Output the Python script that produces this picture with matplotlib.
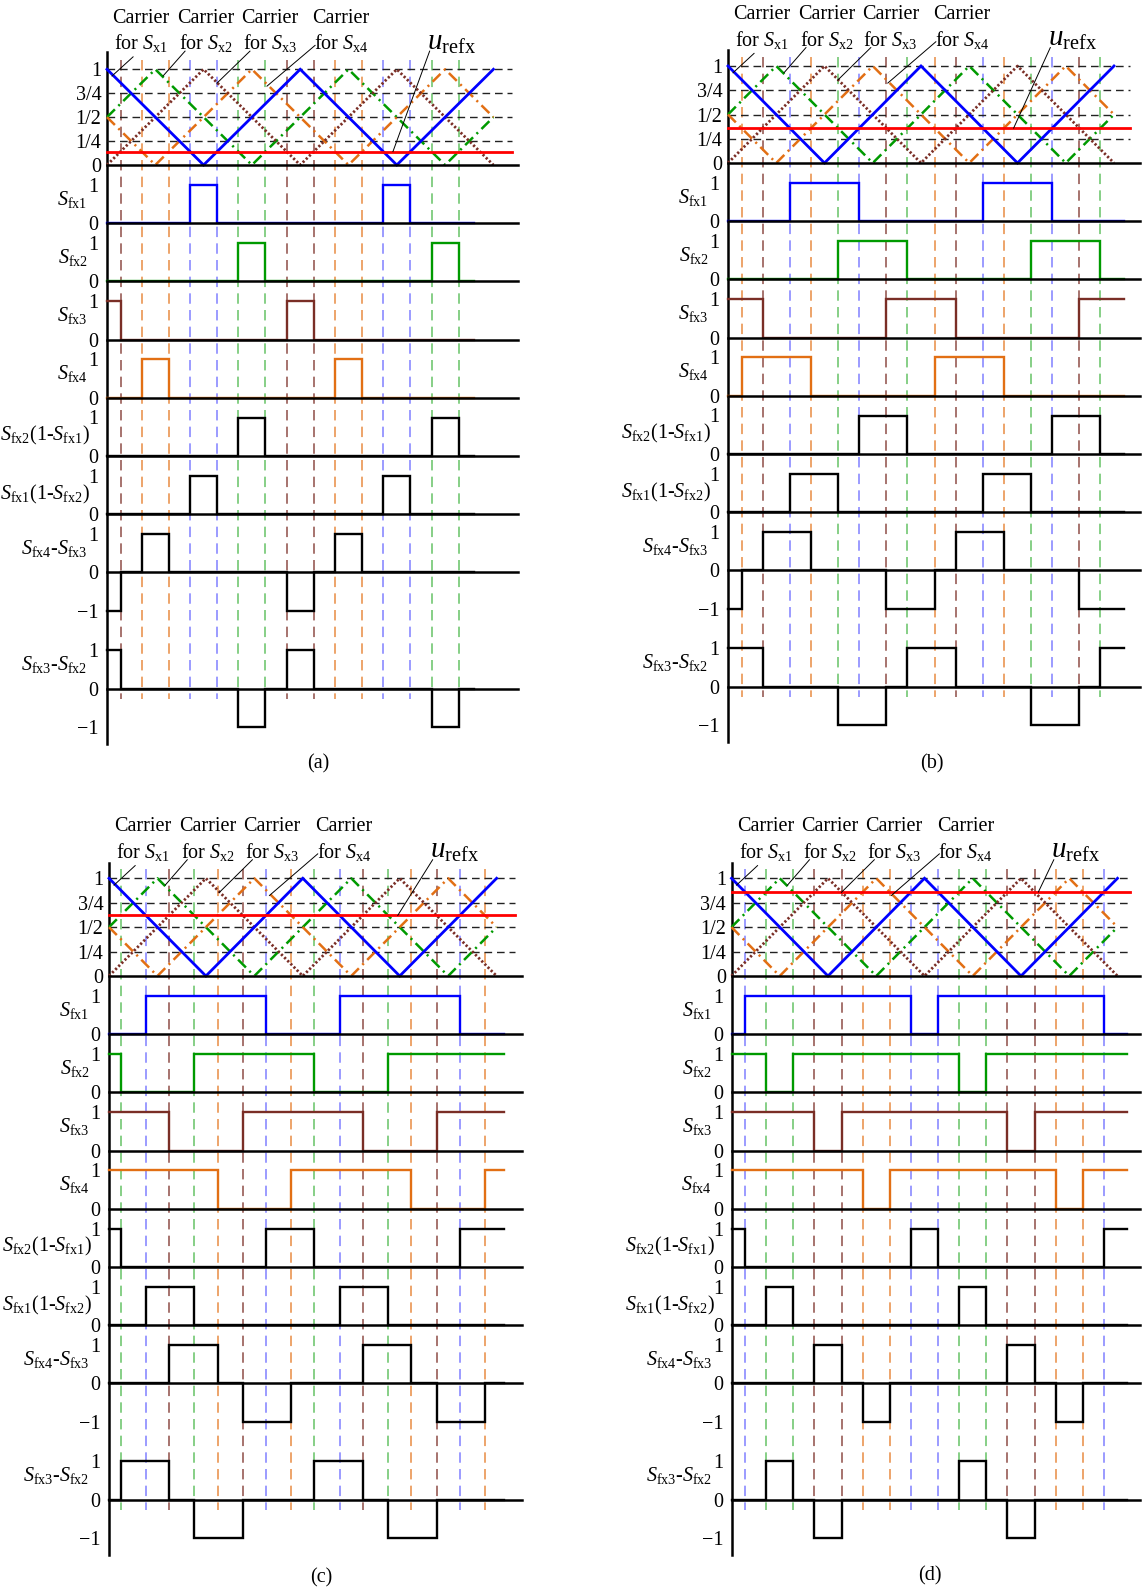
import numpy as np
import matplotlib.pyplot as plt

plt.rcParams['font.family'] = ['Liberation Serif', 'DejaVu Serif']
plt.rcParams['mathtext.fontset'] = 'custom'
plt.rcParams['mathtext.rm'] = 'Liberation Serif'
plt.rcParams['mathtext.it'] = 'Liberation Serif:italic'
plt.rcParams['lines.scale_dashes'] = False

W, H = 1142, 1592

# triangular carriers, time in carrier periods
carrier1_t = [0, 0.5, 1, 1.5, 2]
carrier1_v = [1, 0, 1, 0, 1]
carrier2_t = [0, 0.25, 0.75, 1.25, 1.75, 2]
carrier2_v = [0.5, 1, 0, 1, 0, 0.5]
carrier3_t = [0, 0.5, 1, 1.5, 2]
carrier3_v = [0, 1, 0, 1, 0]
carrier4_t = [0, 0.25, 0.75, 1.25, 1.75, 2]
carrier4_v = [0.5, 0, 1, 0, 1, 0.5]

panel_names = ['(a)', '(b)', '(c)', '(d)']
uref_values = [0.14, 0.36, 0.62, 0.86]
t_end = [1.9, 2.05, 2.04, 2.05]

# on-intervals of the four switching functions, one list per panel
sfx1_on = [
    [(0.43, 0.57), (1.43, 1.57)],
    [(0.32, 0.68), (1.32, 1.68)],
    [(0.19, 0.81), (1.19, 1.81)],
    [(0.07, 0.93), (1.07, 1.93)],
]
sfx2_on = [
    [(0.68, 0.82), (1.68, 1.82)],
    [(0.57, 0.93), (1.57, 1.93)],
    [(-0.56, 0.06), (0.44, 1.06), (1.44, 2.06)],
    [(-0.68, 0.18), (0.32, 1.18), (1.32, 2.18)],
]
sfx3_on = [
    [(-0.07, 0.07), (0.93, 1.07), (1.93, 2.07)],
    [(-0.18, 0.18), (0.82, 1.18), (1.82, 2.18)],
    [(-0.31, 0.31), (0.69, 1.31), (1.69, 2.31)],
    [(-0.43, 0.43), (0.57, 1.43), (1.57, 2.43)],
]
sfx4_on = [
    [(0.18, 0.32), (1.18, 1.32)],
    [(0.07, 0.43), (1.07, 1.43), (2.07, 2.43)],
    [(-0.06, 0.56), (0.94, 1.56), (1.94, 2.56)],
    [(-0.18, 0.68), (0.82, 1.68), (1.82, 2.68)],
]

carrier_ticks = [1, 0.75, 0.5, 0.25, 0]
carrier_ticklabels = ['1', '3/4', '1/2', '1/4', '0']

# leader lines (text end -> curve end), carrier units
leader_start = [(0.135, 1.13), (0.404, 1.19), (0.74, 1.19), (1.077, 1.25)]
leader_end = [(0.026, 0.93), (0.29, 0.93), (0.569, 0.855), (0.828, 0.824)]
carrier_label_t = [0.176, 0.51, 0.842, 1.212]
uref_leader_t = [1.48, 1.48, 1.49, 1.59]

# panel geometry in pixels
panel_x0 = [107, 728, 109, 731.5]
panel_T = [193.2, 193, 193.8, 193]
panel_top1 = [69.3, 66, 878.3, 878.3]
panel_B = [165, 163, 976, 976]
panel_xright = [518, 1140, 522, 1140]
panel_dash_end = [512, 1130, 515, 1130]
caption_xy = [(318, 764), (932, 764), (321, 1578), (930, 1576)]
PITCH = 58.2
UNIT = 38.5

BLUE = '#0000ff'
GREEN = '#009a00'
BROWN = '#7a2e26'
ORANGE = '#e26f14'
FS = 14.5


def px_rect(x, y, w, h):
    return [x / W, 1 - (y + h) / H, w / W, h / H]


def level(intervals, t):
    return 1 if any(a <= t < b for a, b in intervals) else 0


def clean(ax):
    ax.patch.set_alpha(0)
    for s in ax.spines.values():
        s.set_visible(False)
    ax.set_xticks([])


fig = plt.figure(figsize=(W / 100, H / 100), dpi=100)

for i in range(4):
    x0, T, top1, B = panel_x0[i], panel_T[i], panel_top1[i], panel_B[i]
    xr = (panel_xright[i] - x0) / T
    wpx = panel_xright[i] - x0
    tend = t_end[i]
    switches = [sfx1_on[i], sfx2_on[i], sfx3_on[i], sfx4_on[i]]
    last_base = B + 9 * PITCH

    # left axis and edge markers
    ax_o = fig.add_axes(px_rect(x0, B - 113, wpx, 692))
    clean(ax_o)
    ax_o.set_yticks([])
    ax_o.spines['left'].set_visible(True)
    ax_o.spines['left'].set_linewidth(1.8)
    ax_o.set_xlim(0, xr)
    ax_o.set_ylim(B + 579, B - 113)
    ax_o.set_zorder(0)
    edge_styles = [(BLUE, 0.5), (GREEN, 0.6), (BROWN, 0.85), (ORANGE, 0.8)]
    for sw, (col, al) in zip(switches, edge_styles):
        edges = [e for iv in sw for e in iv if 0 < e < tend]
        ax_o.vlines(edges, top1 - 9, last_base + 10, colors=col, alpha=al,
                    lw=1.1, linestyles=(0, (7.5, 4.5)))

    # carriers
    ax_c = fig.add_axes(px_rect(x0, top1, wpx, B - top1))
    clean(ax_c)
    ax_c.set_zorder(2)
    ax_c.set_xlim(0, xr)
    ax_c.set_ylim(0, 1)
    ax_c.axhline(0, color='k', lw=1.8, clip_on=False, zorder=4)
    dash_frac = (panel_dash_end[i] - x0) / wpx
    for v in [0.25, 0.5, 0.75, 1]:
        ax_c.axhline(v, xmax=dash_frac, color='#222222', lw=1.0,
                     linestyle=(0, (5.5, 3.5)), clip_on=False)
    ax_c.plot(carrier2_t, carrier2_v, color=GREEN, lw=1.8,
              linestyle=(0, (8, 3.5, 1.5, 3.5)), clip_on=False)
    ax_c.plot(carrier4_t, carrier4_v, color=ORANGE, lw=1.8,
              linestyle=(0, (8, 3.5, 1.5, 3.5)), clip_on=False)
    ax_c.plot(carrier3_t, carrier3_v, color=BROWN, lw=2.0,
              linestyle=(0, (1.6, 1.6)), clip_on=False)
    ax_c.plot(carrier1_t, carrier1_v, color=BLUE, lw=2.0, clip_on=False,
              solid_joinstyle='miter')
    ax_c.plot([0, (panel_dash_end[i] - x0) / T], [uref_values[i]] * 2,
              color='#ff0000', lw=2.0, clip_on=False)
    ax_c.set_yticks(carrier_ticks)
    ax_c.set_yticklabels(carrier_ticklabels, fontsize=FS)
    ax_c.tick_params(axis='y', length=0, pad=4)

    for k in range(4):
        tx = carrier_label_t[k]
        ax_c.text(tx, 1.53, 'Carrier', ha='center', va='center', fontsize=FS)
        ax_c.text(tx, 1.27, 'for $S_{\\mathrm{x%d}}$' % (k + 1), ha='center',
                  va='center', fontsize=FS)
        ax_c.plot([leader_start[k][0], leader_end[k][0]],
                  [leader_start[k][1], leader_end[k][1]],
                  color='k', lw=0.7, clip_on=False)
    ax_c.text(1.785, 1.28, r'$u_{\mathrm{refx}}$', ha='center', va='center',
              fontsize=21)
    ax_c.plot([1.67, uref_leader_t[i]], [1.19, uref_values[i]],
              color='k', lw=0.7, clip_on=False)

    # switching functions and their combinations
    pts = sorted({0, tend} | {e for sw in switches for iv in sw for e in iv
                              if 0 < e < tend})
    mids = [(a + b) / 2 for a, b in zip(pts[:-1], pts[1:])]
    s = [np.array([level(sw, m) for m in mids]) for sw in switches]
    s1, s2, s3, s4 = s
    rows = [
        (r'$S_{\mathrm{fx1}}$', s1, BLUE, False),
        (r'$S_{\mathrm{fx2}}$', s2, GREEN, False),
        (r'$S_{\mathrm{fx3}}$', s3, BROWN, False),
        (r'$S_{\mathrm{fx4}}$', s4, ORANGE, False),
        (r'$S_{\mathrm{fx2}}$(1-$S_{\mathrm{fx1}}$)', s2 * (1 - s1), 'k', False),
        (r'$S_{\mathrm{fx1}}$(1-$S_{\mathrm{fx2}}$)', s1 * (1 - s2), 'k', False),
        (r'$S_{\mathrm{fx4}}$-$S_{\mathrm{fx3}}$', s4 - s3, 'k', True),
        (r'$S_{\mathrm{fx3}}$-$S_{\mathrm{fx2}}$', s3 - s2, 'k', True),
    ]
    row_k = [1, 2, 3, 4, 5, 6, 7, 9]
    for (label, vals, col, bipolar), k in zip(rows, row_k):
        base = B + k * PITCH
        if bipolar:
            ax = fig.add_axes(px_rect(x0, base - UNIT, wpx, 2 * UNIT))
            ax.set_ylim(-1, 1)
            ax.set_yticks([1, 0, -1])
            ax.set_yticklabels(['1', '0', '\u22121'], fontsize=FS)
        else:
            ax = fig.add_axes(px_rect(x0, base - UNIT, wpx, UNIT))
            ax.set_ylim(0, 1)
            ax.set_yticks([1, 0])
            ax.set_yticklabels(['1', '0'], fontsize=FS)
        clean(ax)
        ax.set_zorder(2)
        ax.set_xlim(0, xr)
        ax.tick_params(axis='y', length=0, pad=6)
        ax.plot(pts, list(vals) + [vals[-1]], drawstyle='steps-post',
                color=col, lw=1.7, clip_on=False, solid_joinstyle='miter',
                zorder=2)
        ax.axhline(0, color='k', lw=1.8, clip_on=False, zorder=3)
        long_label = '(' in label
        ax.annotate(label, xy=(0, 0.52 if long_label else 0.62),
                    xycoords=('axes fraction', 'data'),
                    xytext=(-12 if long_label else -14, 0),
                    textcoords='offset points', ha='right', va='center',
                    fontsize=FS)

    fig.text(caption_xy[i][0] / W, 1 - caption_xy[i][1] / H, panel_names[i],
             ha='center', va='center', fontsize=FS)

fig.savefig('out.png', dpi=100)
